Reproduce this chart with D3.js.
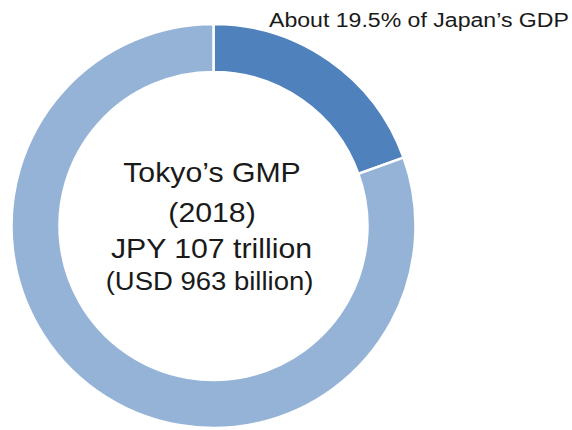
<!DOCTYPE html>
<html>
<head>
<meta charset="utf-8">
<script src="https://cdn.jsdelivr.net/npm/d3@7"></script>
<style>
  html, body { margin: 0; padding: 0; background: #fff; }
  svg { display: block; font-family: "Liberation Sans", Arial, sans-serif; }
</style>
</head>
<body>
<svg id="chart" width="572" height="430"></svg>
<script>
// Data
const categories = ["Tokyo", "Rest of Japan"];
const shares = [19.5, 80.5];
const sliceColors = ["#4f81bd", "#95b3d7"];
const topLabel = "About 19.5% of Japan\u2019s GDP";
const centerLines = ["Tokyo\u2019s GMP", "(2018)", "JPY 107 trillion", "(USD 963 billion)"];

const svg = d3.select("#chart");
const cx = 213.5, cy = 226, outerR = 202, innerR = 154;

const pie = d3.pie().sort(null).value(d => d.v);
const arc = d3.arc().innerRadius(innerR).outerRadius(outerR);
const data = pie(categories.map((c, i) => ({ c, v: shares[i] })));

const color = d3.scaleOrdinal().domain(categories).range(sliceColors);

svg.append("g")
  .attr("transform", `translate(${cx},${cy})`)
  .selectAll("path")
  .data(data)
  .join("path")
  .attr("d", arc)
  .attr("fill", d => color(d.data.c))
  .attr("stroke", "#fff")
  .attr("stroke-width", 2.5);

// Top label
svg.append("text")
  .attr("transform", "translate(269,26.5) scale(1.1,1)")
  .attr("font-size", 21)
  .attr("fill", "#1a1a1a")
  .text(topLabel);

// Center text
const centerY = [181.7, 221.5, 258.3, 290];
const centerSize = [27.5, 27.5, 27.5, 25];
const centerX = [212, 212, 211.5, 209.5];
svg.append("g")
  .selectAll("text")
  .data(centerLines)
  .join("text")
  .attr("transform", (d, i) => `translate(${centerX[i]},${centerY[i]}) scale(1.1,1)`)
  .attr("text-anchor", "middle")
  .attr("font-size", (d, i) => centerSize[i])
  .attr("fill", "#1a1a1a")
  .text(d => d);
</script>
</body>
</html>
